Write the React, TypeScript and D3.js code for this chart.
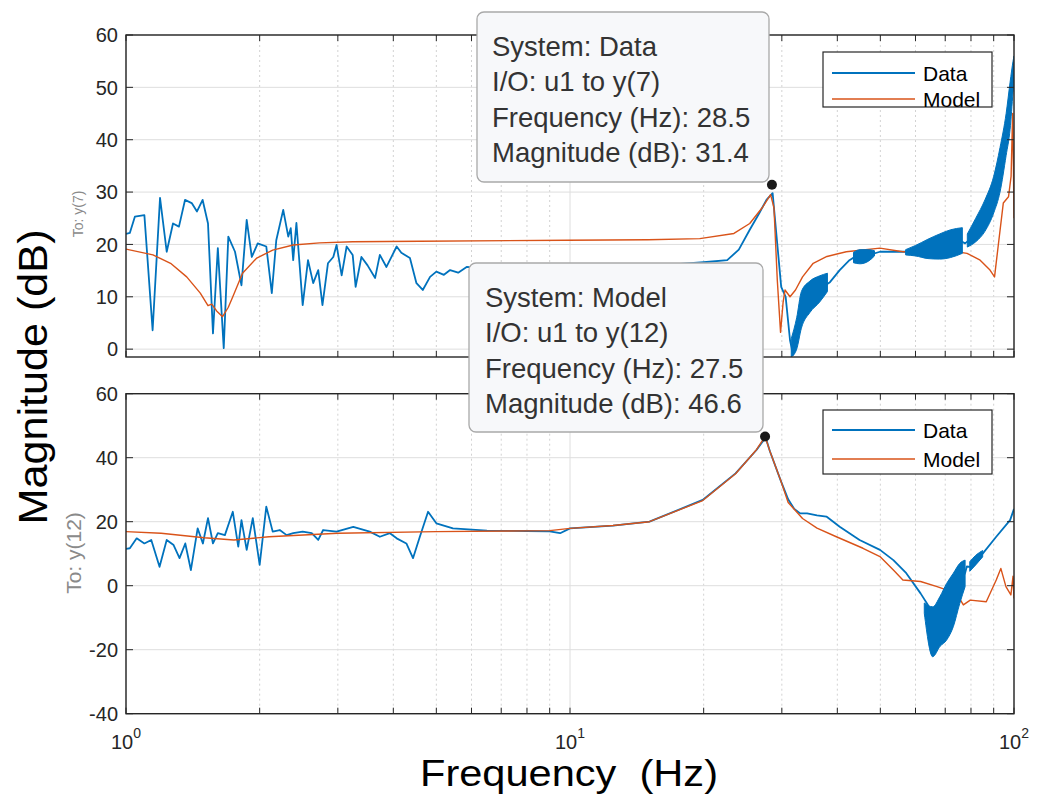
import React from 'react'
import * as d3 from 'd3'

// [Hz, dB]
const topData: [number, number][] = [
  [1.0, 22], [1.02, 22.2], [1.047, 25.3], [1.1, 25.6], [1.148, 3.6], [1.193, 28.9], [1.235, 18.6],
  [1.276, 24], [1.316, 23.4], [1.358, 28.5], [1.406, 27.9], [1.445, 26.3], [1.488, 28.5], [1.53, 24],
  [1.57, 3], [1.61, 19.3], [1.66, 0.2], [1.7, 21.5], [1.76, 18.6], [1.82, 12.2], [1.87, 24.7],
  [1.92, 17.6], [1.98, 20.2], [2.07, 19.6], [2.13, 10.7], [2.18, 20.8], [2.26, 26.6], [2.32, 21.5],
  [2.35, 23.1], [2.38, 17], [2.42, 24.1], [2.5, 8.4], [2.57, 17], [2.64, 12.6], [2.71, 15.1],
  [2.77, 8.4], [2.85, 16.4], [2.93, 17.6], [2.98, 19.9], [3.06, 14.1], [3.14, 19.6], [3.24, 18],
  [3.29, 11.9], [3.39, 17.6], [3.5, 16], [3.64, 13.6], [3.73, 18], [3.86, 15.7], [4.07, 19.6],
  [4.17, 18.4], [4.36, 17.4], [4.51, 12.6], [4.66, 11.3], [4.84, 13.8], [5.0, 14.8], [5.2, 14.2],
  [5.37, 15.1], [5.6, 14.6], [5.85, 15.7], [7, 15.2], [9, 15.4], [12, 15.6], [16, 16], [20, 16.6],
  [22.6, 17], [24, 19], [25.4, 22.8], [26.7, 26], [27.7, 28.5], [28.6, 29.8], [29.1, 22.8],
  [29.9, 11.9], [30.6, 10], [31.3, 1.7], [31.8, -1.1], [32.4, 3.6], [33.2, 8], [34.7, 10],
  [36.5, 11.5], [38.5, 12.8], [40.5, 15.1], [42.6, 17], [44.1, 17.8], [46.4, 17.8], [49.9, 18.6],
  [53.3, 18.6], [57.2, 18.6], [60.1, 18.9], [63.3, 19.6], [69, 20.2], [75.3, 20.8], [77.6, 20.2],
  [79.7, 21], [83.9, 23.4], [88.3, 27], [91.1, 31.7], [94.6, 38.7], [97.2, 45.7], [99.6, 53.3], [100, 55],
]

const topModel: [number, number][] = [
  [1, 19.1], [1.15, 18], [1.26, 16.4], [1.37, 13.8], [1.47, 10.7], [1.53, 8.3], [1.56, 8.6],
  [1.6, 7.3], [1.65, 6.2], [1.7, 8], [1.74, 10], [1.83, 14.5], [1.97, 17.4], [2.14, 18.9],
  [2.38, 19.9], [2.73, 20.3], [3.24, 20.5], [4.59, 20.6], [9.84, 20.8], [15, 20.9], [19.6, 21.1],
  [23.4, 22.1], [25.4, 24], [27.2, 27.2], [28.3, 29.5], [28.8, 27], [29.3, 13.2], [29.8, 3.2],
  [30.2, 9], [30.5, 11.3], [31.3, 10], [32.2, 11.3], [33.4, 13.8], [35.3, 16.4], [37.9, 17.7],
  [41.9, 18.6], [49.9, 19.3], [56.2, 18.6], [61.6, 18.6], [70.5, 18.9], [78.4, 18.3], [83.9, 17],
  [88.3, 15.1], [90.4, 13.8], [92.1, 19.6], [94.6, 27.9], [97.2, 29.1], [98.5, 33], [99.3, 45],
  [99.7, 35], [100, 25],
]

// [Hz, low dB, high dB] envelope of the dense oscillation in the measured data
const topDataBands: [number, number, number][][] = [
  [[31.5, -1.5, 2], [32.4, 0, 6], [33.2, 4, 11], [34.7, 7, 13], [36.5, 9, 14], [38, 11, 14.5]],
  [[43.5, 16.5, 18.5], [45, 16.3, 19], [47, 16.8, 19], [48.5, 17.8, 18.8]],
  [[57, 18, 19], [60, 17.8, 19.8], [64, 17.3, 21], [68, 17.2, 22], [72, 17.5, 22.8], [76.5, 18.3, 23.2]],
  [[78.5, 19.5, 22], [82, 20.5, 25], [86, 22.5, 28.5], [90, 26, 33], [93, 30, 38.5], [96, 37, 45],
    [98, 42, 51], [99.5, 49, 55], [100, 51, 56]],
]

const bottomData: [number, number][] = [
  [1, 11.5], [1.02, 11.7], [1.057, 14.8], [1.1, 13.2], [1.14, 14.3], [1.19, 5.9], [1.235, 14.3],
  [1.28, 12.7], [1.32, 8.6], [1.36, 13.2], [1.4, 4.9], [1.45, 17.9], [1.49, 13.2], [1.53, 21.1],
  [1.57, 13.2], [1.61, 16.4], [1.67, 15.8], [1.74, 23.1], [1.79, 12.2], [1.82, 20.5], [1.87, 11.2],
  [1.93, 21.1], [2.0, 6.5], [2.07, 24.7], [2.14, 16.9], [2.22, 17.4], [2.3, 15.8], [2.38, 16.4],
  [2.5, 16.9], [2.62, 16.4], [2.71, 14.3], [2.78, 17.4], [2.98, 16.9], [3.25, 18.4], [3.54, 16.9],
  [3.73, 15.3], [3.93, 16.4], [4.07, 14.8], [4.28, 13.2], [4.43, 8.6], [4.59, 15.3], [4.79, 23.1],
  [5.0, 19.5], [5.45, 17.9], [6.5, 17.2], [8, 17.1], [9, 17], [9.5, 16.4], [10, 17.9], [12.5, 18.8],
  [15.1, 20], [19.9, 26.8], [23.6, 35.1], [26.3, 42.4], [27.3, 45.5], [27.6, 46.2], [28.2, 42],
  [29.8, 33], [31, 27], [32, 24], [33, 22.6], [34.2, 22.6], [36, 22], [37.8, 21.6], [40.5, 18.4],
  [44.9, 14.3], [49.9, 11.2], [53.5, 8], [57.2, 3.9], [61.6, -2.4], [64, -6], [66, -12], [68, -10],
  [70.5, -8], [73, -4.5], [75.5, 0.5], [77.6, 4], [78.3, 6], [79.7, 5.9], [85.1, 10.1], [91.2, 15.3],
  [98, 20.5], [100, 24],
]

const bottomModel: [number, number][] = [
  [1, 16.9], [1.2, 16.4], [1.5, 15], [1.75, 14.3], [2.1, 15.3], [3, 16.4], [5, 16.9], [9, 17.2],
  [10, 17.9], [12.5, 18.8], [15.1, 20], [19.9, 26.6], [23.6, 35], [26.3, 42.5], [27.5, 46.6],
  [28.2, 42], [29.8, 33], [31, 26], [33.4, 21], [36, 18], [39.8, 15.3], [45.7, 11.7], [49.9, 9.1],
  [53.5, 4.9], [56.2, 1.8], [61.6, 1.3], [67.1, -0.3], [74.2, -2.4], [76.9, -6], [79.7, -4.5],
  [86.6, -5], [91.2, 1.8], [93.4, 5.4], [95.9, -0.3], [98.4, -2.9], [99.5, 3], [100, -4],
]

const bottomDataBands: [number, number, number][][] = [
  [[62.8, -8.6, -5.4], [65.6, -22.2, -6.6], [68.1, -19, -3.4], [70.5, -17, 0.7], [73, -12.8, 3.9],
    [75.5, -5.5, 7], [77.6, -0.3, 8]],
  [[79.5, 4.5, 7.5], [82, 6.5, 9.5], [85, 9, 11]],
]

const topYTicks = [0, 10, 20, 30, 40, 50, 60]
const bottomYTicks = [-40, -20, 0, 20, 40, 60]
const decades = [1, 10, 100]
const decadeExp = ['0', '1', '2']
const seriesNames = ['Data', 'Model']

const topTip = { f: 28.5, db: 31.4, lines: ['System: Data', 'I/O: u1 to y(7)', 'Frequency (Hz): 28.5', 'Magnitude (dB): 31.4'] }
const bottomTip = { f: 27.5, db: 46.6, lines: ['System: Model', 'I/O: u1 to y(12)', 'Frequency (Hz): 27.5', 'Magnitude (dB): 46.6'] }

const BLUE = '#0072BD'
const ORANGE = '#D95319'
const AXIS = '#262626'
const FONT = '"Liberation Sans", Arial, Helvetica, sans-serif'

const x = d3.scaleLog().domain([1, 100]).range([126, 1014])
const minorTicks: number[] = []
decades.slice(0, -1).forEach(d => { for (let k = 2; k <= 9; k++) minorTicks.push(d * k) })

type PanelProps = {
  y: d3.ScaleLinear<number, number>
  yTicks: number[]
  data: [number, number][]
  model: [number, number][]
  bands: [number, number, number][][]
  id: string
  legend: { top: number; h: number; rows: number[] }
  showX: boolean
}

const Panel = ({ y, yTicks, data, model, bands, id, legend, showX }: PanelProps) => {
  const [x0, x1] = x.range()
  const [yb, yt] = y.range()
  const line = d3.line<[number, number]>().x(d => x(d[0])).y(d => y(d[1]))
  const area = d3.area<[number, number, number]>().x(d => x(d[0])).y0(d => y(d[1])).y1(d => y(d[2])).curve(d3.curveMonotoneX)
  const lx = 832
  return (
    <g>
      <defs>
        <clipPath id={id}>
          <rect x={x0} y={yt} width={x1 - x0} height={yb - yt} />
        </clipPath>
      </defs>
      <rect x={x0} y={yt} width={x1 - x0} height={yb - yt} fill="#fff" />
      {/* grid */}
      {minorTicks.map(t => (
        <line key={'mg' + t} x1={x(t)} x2={x(t)} y1={yt} y2={yb} stroke="#d2d2d2" strokeDasharray="2,3" />
      ))}
      {decades.map(t => (
        <line key={'xg' + t} x1={x(t)} x2={x(t)} y1={yt} y2={yb} stroke="#dedede" />
      ))}
      {yTicks.map(t => (
        <line key={'yg' + t} x1={x0} x2={x1} y1={y(t)} y2={y(t)} stroke="#dedede" />
      ))}
      {/* curves */}
      <g clipPath={`url(#${id})`}>
        <path d={line(data) || ''} fill="none" stroke={BLUE} strokeWidth={1.8} strokeLinejoin="round" />
        <path d={line(model) || ''} fill="none" stroke={ORANGE} strokeWidth={1.4} strokeLinejoin="round" />
        {bands.map((b, i) => (
          <path key={i} d={area(b) || ''} fill={BLUE} stroke={BLUE} strokeWidth={1} />
        ))}
      </g>
      {/* axes box and ticks */}
      <rect x={x0} y={yt} width={x1 - x0} height={yb - yt} fill="none" stroke={AXIS} strokeWidth={1.4} />
      {yTicks.map(t => (
        <g key={'yt' + t}>
          <line x1={x0} x2={x0 + 7} y1={y(t)} y2={y(t)} stroke={AXIS} />
          <line x1={x1} x2={x1 - 7} y1={y(t)} y2={y(t)} stroke={AXIS} />
          <text x={x0 - 8} y={y(t)} dy="0.36em" textAnchor="end" fontSize={20} fill={AXIS} fontFamily={FONT}>{t}</text>
        </g>
      ))}
      {decades.concat(minorTicks).map(t => (
        <g key={'xt' + t}>
          <line x1={x(t)} x2={x(t)} y1={yb} y2={yb - 6} stroke={AXIS} />
          <line x1={x(t)} x2={x(t)} y1={yt} y2={yt + 6} stroke={AXIS} />
        </g>
      ))}
      {showX && decades.map((t, i) => (
        <text key={'xl' + t} x={x(t)} y={yb + 35} textAnchor="middle" fontSize={20} fill={AXIS} fontFamily={FONT}>
          10<tspan dy={-11} fontSize={14}>{decadeExp[i]}</tspan>
        </text>
      ))}
      {/* legend */}
      <rect x={823} y={legend.top} width={169} height={legend.h} fill="#fff" stroke={AXIS} strokeWidth={1.2} />
      {seriesNames.map((n, i) => {
        const cy = legend.rows[i]
        return (
          <g key={n}>
            <line x1={lx} x2={lx + 83} y1={cy} y2={cy} stroke={i === 0 ? BLUE : ORANGE} strokeWidth={i === 0 ? 1.8 : 1.4} />
            <text x={lx + 91} y={cy} dy="0.36em" fontSize={21} fill="#000" fontFamily={FONT}>{n}</text>
          </g>
        )
      })}
    </g>
  )
}

type TipProps = { box: { x: number; y: number; w: number; h: number }; lines: string[]; cx: number; cy: number; tx: number }

const DataTip = ({ box, lines, cx, cy, tx }: TipProps) => (
  <g>
    <rect x={box.x} y={box.y} width={box.w} height={box.h} rx={7} fill="#f7f8fa" stroke="#a9a9a9" strokeWidth={1.3} />
    {lines.map((l, i) => (
      <text key={i} x={tx} y={box.y + 34 + i * 35.5} dy="0.36em" fontSize={27.5} fill="#333" fontFamily={FONT}>{l}</text>
    ))}
    <circle cx={cx} cy={cy} r={5} fill="#1a1a1a" />
  </g>
)

export default function App() {
  const yTop = d3.scaleLinear().domain([-1.5, 60]).range([357, 35])
  const yBot = d3.scaleLinear().domain([-40, 60]).range([713.7, 393.7])
  return (
    <div style={{ position: 'absolute', left: 0, top: 0 }}>
      <svg width={1037} height={801} style={{ display: 'block', background: '#fff' }}>
        <rect width={1037} height={801} fill="#fff" />
        <Panel y={yTop} yTicks={topYTicks} data={topData} model={topModel} bands={topDataBands} id="clipTop"
          legend={{ top: 52, h: 55, rows: [73, 99] }} showX={false} />
        <Panel y={yBot} yTicks={bottomYTicks} data={bottomData} model={bottomModel} bands={bottomDataBands} id="clipBot"
          legend={{ top: 410, h: 64, rows: [430, 459] }} showX={true} />
        <text transform="translate(83,214) rotate(-90)" textAnchor="middle" fontSize={14} fill="#8a8a8a" fontFamily={FONT}>To: y(7)</text>
        <text transform="translate(81,553) rotate(-90)" textAnchor="middle" fontSize={21} fill="#8a8a8a" fontFamily={FONT}>To: y(12)</text>
        <text transform="translate(47,377) rotate(-90)" textAnchor="middle" fontSize={40} fill="#000" fontFamily={FONT}
          textLength={295} lengthAdjust="spacingAndGlyphs">Magnitude (dB)</text>
        <text x={569} y={786} textAnchor="middle" fontSize={37} fill="#000" fontFamily={FONT} textLength={298}
          lengthAdjust="spacingAndGlyphs" style={{ whiteSpace: 'pre' }}>{'Frequency  (Hz)'}</text>
        <DataTip box={{ x: 477, y: 12, w: 292, h: 170 }} lines={topTip.lines} tx={492} cx={x(topTip.f)} cy={yTop(topTip.db)} />
        <DataTip box={{ x: 469, y: 263, w: 294, h: 169 }} lines={bottomTip.lines} tx={485} cx={x(bottomTip.f)} cy={yBot(bottomTip.db)} />
      </svg>
    </div>
  )
}
